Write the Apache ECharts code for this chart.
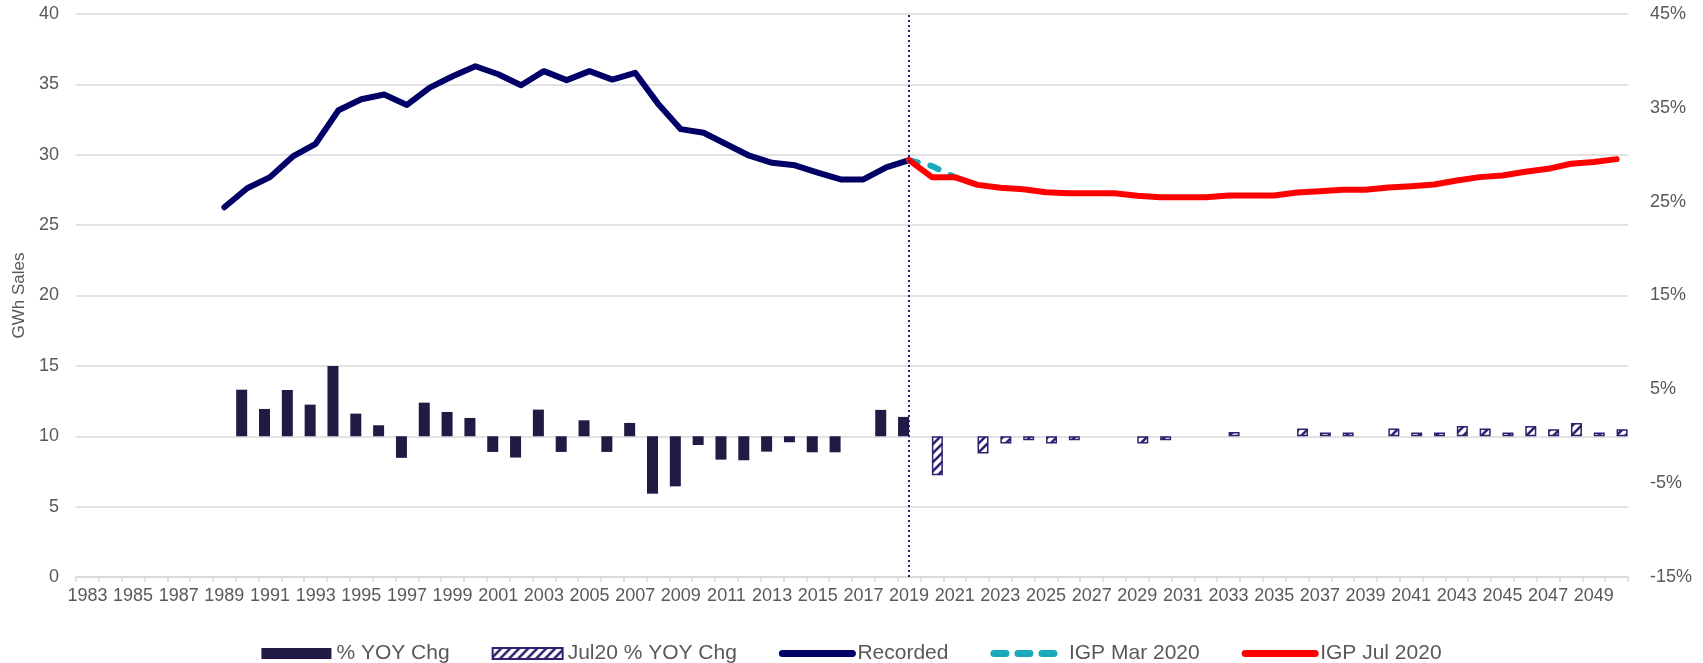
<!DOCTYPE html>
<html>
<head>
<meta charset="utf-8">
<script src="https://cdn.jsdelivr.net/npm/echarts@6/dist/echarts.min.js"></script>
<style>
  html, body { margin: 0; padding: 0; background: #fff; }
  #chart { width: 1703px; height: 663px; }
</style>
</head>
<body>
<div id="chart"></div>
<script>
// categories 1983..2050
const years = [];
for (let y = 1983; y <= 2050; y++) years.push(String(y));

// GWh sales, recorded 1989-2019
const recordedStart = 1989;
const recorded = [26.27, 27.62, 28.41, 29.88, 30.78, 33.16, 33.94, 34.28, 33.54, 34.77,
  35.58, 36.29, 35.72, 34.94, 35.94, 35.30, 35.94, 35.34, 35.82, 33.63,
  31.82, 31.56, 30.75, 29.93, 29.43, 29.25, 28.73, 28.25, 28.25, 29.10, 29.62];

// forecasts start 2019
const forecastStart = 2019;
const igpMar2020 = [29.62, 29.20, 28.40];
const igpJul2020 = [29.62, 28.41, 28.41, 27.86, 27.65, 27.55, 27.34, 27.27, 27.27, 27.27,
  27.08, 26.98, 26.98, 26.98, 27.10, 27.10, 27.10, 27.32, 27.41, 27.51,
  27.51, 27.67, 27.77, 27.89, 28.17, 28.41, 28.53, 28.79, 29.00, 29.36,
  29.48, 29.69];

// % YOY change, 1990-2019
const yoyStart = 1990;
const yoyChg = [4.96, 2.91, 4.93, 3.37, 7.49, 2.41, 1.17, -2.30, 3.58, 2.59,
  1.95, -1.67, -2.27, 2.84, -1.67, 1.70, -1.67, 1.42, -6.12, -5.34,
  -0.93, -2.49, -2.56, -1.64, -0.64, -1.71, -1.71, null, 2.81, 2.06];

// Jul20 % YOY change, 2020-2050
const jul20Start = 2020;
const jul20YoyChg = [-4.15, null, -1.84, -0.78, -0.43, -0.78, -0.43, null, null, -0.78,
  -0.43, null, null, 0.46, null, null, 0.82, 0.39, 0.39, null,
  0.82, 0.39, 0.39, 1.10, 0.82, 0.39, 1.10, 0.75, 1.42, 0.39, 0.75];

const leftTicks = [0, 40, 5];
const rightTickLabels = [-15, -5, 5, 15, 25, 35, 45];

function pad(start, values) {
  const out = years.map(() => null);
  values.forEach((v, i) => { out[start - 1983 + i] = v; });
  return out;
}

// diagonal hatch for the Jul20 bars
function hatch() {
  const s = 9;
  const c = document.createElement('canvas');
  c.width = s; c.height = s;
  const ctx = c.getContext('2d');
  ctx.fillStyle = '#ffffff';
  ctx.fillRect(0, 0, s, s);
  ctx.strokeStyle = '#2e2170';
  ctx.lineWidth = 2.6;
  ctx.beginPath();
  ctx.moveTo(-2, s + 2); ctx.lineTo(s + 2, -2);
  ctx.moveTo(-2, 2); ctx.lineTo(2, -2);
  ctx.moveTo(s - 2, s + 2); ctx.lineTo(s + 2, s - 2);
  ctx.stroke();
  return c;
}

const font = "'Liberation Sans', Arial, sans-serif";
const gray = '#595959';
const gridColor = '#d9d9d9';
const noDot = { opacity: 0 };

const chart = echarts.init(document.getElementById('chart'));
chart.setOption({
  animation: false,
  textStyle: { fontFamily: font },
  grid: { left: 76, right: 75, top: 14, bottom: 86 },
  legend: {
    top: 638,
    left: 'center',
    itemWidth: 70,
    itemHeight: 11,
    itemGap: 42,
    textStyle: { color: gray, fontSize: 21, fontFamily: font },
    data: [
      { name: '% YOY Chg', icon: 'rect' },
      { name: 'Jul20 % YOY Chg', icon: 'rect' },
      { name: 'Recorded', itemStyle: noDot, lineStyle: { width: 7, cap: 'round' } },
      { name: 'IGP Mar 2020', itemStyle: noDot, lineStyle: { width: 7, type: [12, 12], cap: 'round' } },
      { name: 'IGP Jul 2020', itemStyle: noDot, lineStyle: { width: 7, cap: 'round' } }
    ]
  },
  xAxis: {
    type: 'category',
    data: years,
    boundaryGap: true,
    axisLine: { lineStyle: { color: gridColor, width: 1.5 } },
    axisTick: { show: true, interval: 0, length: 5, lineStyle: { color: gridColor, width: 1.5 } },
    axisLabel: { interval: 1, color: gray, fontSize: 18, margin: 10 }
  },
  yAxis: [
    {
      type: 'value',
      min: leftTicks[0],
      max: leftTicks[1],
      interval: leftTicks[2],
      name: 'GWh Sales',
      nameLocation: 'middle',
      nameGap: 48,
      nameTextStyle: { color: gray, fontSize: 17 },
      axisLine: { show: false },
      axisTick: { show: false },
      axisLabel: { color: gray, fontSize: 18, margin: 17 },
      splitLine: { lineStyle: { color: gridColor, width: 1.5 } }
    },
    {
      type: 'value',
      position: 'right',
      min: rightTickLabels[0],
      max: rightTickLabels[rightTickLabels.length - 1],
      axisLine: { show: false },
      axisTick: { show: false },
      splitLine: { show: false },
      axisLabel: {
        color: gray,
        fontSize: 18,
        margin: 22,
        customValues: rightTickLabels,
        formatter: v => v + '%'
      }
    }
  ],
  series: [
    {
      name: '% YOY Chg',
      type: 'bar',
      yAxisIndex: 1,
      barWidth: 11,
      barGap: '0%',
      data: pad(yoyStart, yoyChg),
      itemStyle: { color: '#211a44' }
    },
    {
      name: 'Jul20 % YOY Chg',
      type: 'bar',
      yAxisIndex: 1,
      barWidth: 11,
      barGap: '0%',
      data: pad(jul20Start, jul20YoyChg),
      itemStyle: {
        color: { image: hatch(), repeat: 'repeat' },
        borderColor: '#2e2170',
        borderWidth: 1.5
      }
    },
    {
      name: 'Recorded',
      type: 'line',
      symbol: 'none',
      data: pad(recordedStart, recorded),
      lineStyle: { color: '#000066', width: 6, cap: 'round', join: 'round' },
      itemStyle: { color: '#000066' },
      markLine: {
        silent: true,
        symbol: 'none',
        label: { show: false },
        lineStyle: { color: '#241f78', type: [2, 3], width: 2 },
        data: [{ xAxis: '2019' }]
      },
      z: 3
    },
    {
      name: 'IGP Mar 2020',
      type: 'line',
      symbol: 'none',
      data: pad(forecastStart, igpMar2020),
      lineStyle: { color: '#1aa9bc', width: 6, type: [9, 13], cap: 'round' },
      itemStyle: { color: '#1aa9bc' },
      z: 3
    },
    {
      name: 'IGP Jul 2020',
      type: 'line',
      symbol: 'none',
      data: pad(forecastStart, igpJul2020),
      lineStyle: { color: '#ff0000', width: 6, cap: 'round', join: 'round' },
      itemStyle: { color: '#ff0000' },
      z: 4
    }
  ]
});
</script>
</body>
</html>
